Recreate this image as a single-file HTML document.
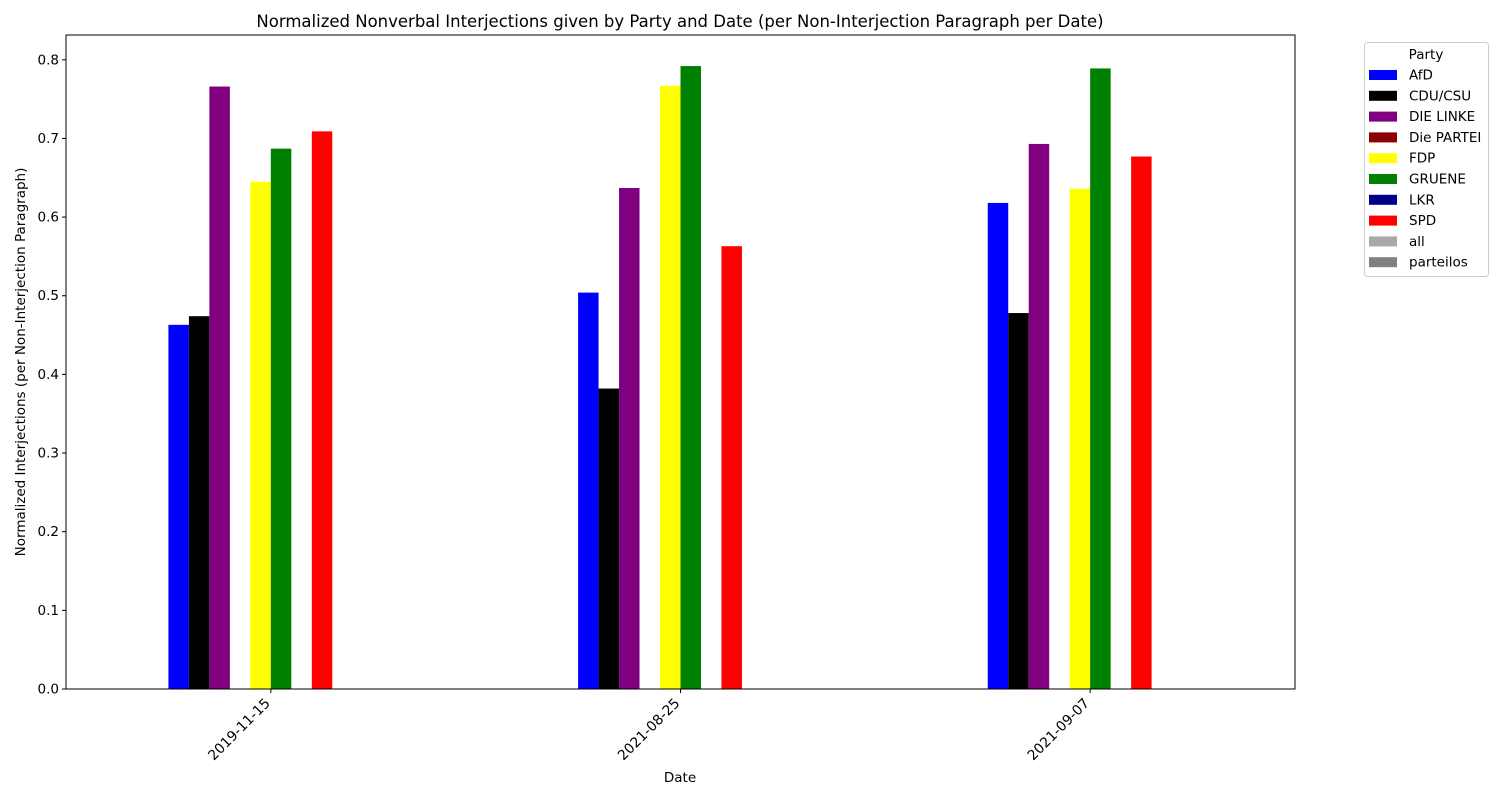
<!DOCTYPE html>
<html><head><meta charset="utf-8"><style>
body{margin:0;background:#fff;}
svg{font-family:"DejaVu Sans","Liberation Sans",sans-serif;}
</style></head><body>
<svg id="chart" width="1500" height="800">
<text x="680" y="27" font-size="16.5" text-anchor="middle">Normalized Nonverbal Interjections given by Party and Date (per Non-Interjection Paragraph per Date)</text>
<text x="680" y="782" font-size="13.5" text-anchor="middle">Date</text>
<text transform="translate(25,362) rotate(-90)" font-size="13.5" text-anchor="middle">Normalized Interjections (per Non-Interjection Paragraph)</text>
<g id="bars"></g><g id="axes"></g><g id="legend"></g>
</svg>
<script>
const dates=["2019-11-15","2021-08-25","2021-09-07"];
const parties=["AfD","CDU/CSU","DIE LINKE","Die PARTEI","FDP","GRUENE","LKR","SPD","all","parteilos"];
const colors=["#0000ff","#000000","#800080","#8b0000","#ffff00","#008000","#00008b","#ff0000","#a9a9a9","#808080"];
const vAfD=[0.463,0.504,0.618];
const vCDU=[0.474,0.382,0.478];
const vLINKE=[0.766,0.637,0.693];
const vPARTEI=[0,0,0];
const vFDP=[0.645,0.767,0.636];
const vGRUENE=[0.687,0.792,0.789];
const vLKR=[0,0,0];
const vSPD=[0.709,0.563,0.677];
const vAll=[0,0,0];
const vParteilos=[0,0,0];
const series=[vAfD,vCDU,vLINKE,vPARTEI,vFDP,vGRUENE,vLKR,vSPD,vAll,vParteilos];
const yTicks=[0,0.1,0.2,0.3,0.4,0.5,0.6,0.7,0.8];
const NS="http://www.w3.org/2000/svg";
const L=66,R=1295,T=35,B=689;
const xMin=-0.5,xMax=dates.length-0.5,yMax=0.8315;
const xs=v=>L+(v-xMin)/(xMax-xMin)*(R-L);
const ys=v=>B-v/yMax*(B-T);
function mk(tag,attrs,parent){const e=document.createElementNS(NS,tag);for(const k in attrs)e.setAttribute(k,attrs[k]);parent.appendChild(e);return e;}
const bars=document.getElementById('bars'),axes=document.getElementById('axes'),leg=document.getElementById('legend');
const bw=0.5/parties.length;
series.forEach((arr,p)=>{arr.forEach((v,i)=>{
 const x0=xs(i-0.25+p*bw),x1=xs(i-0.25+(p+1)*bw);
 const r=mk('rect',{x:x0,y:ys(v),width:x1-x0,height:ys(0)-ys(v),fill:colors[p]},bars);
 
 
});});
const frame=mk('rect',{x:L,y:T,width:R-L,height:B-T,fill:'none',stroke:'#000','stroke-width':1},axes);


yTicks.forEach(t=>{const y=ys(t);
 mk('line',{x1:L-4,x2:L,y1:y,y2:y,stroke:'#000'},axes);
 const tx=mk('text',{x:L-7,y:y+4.5,'font-size':13.5,'text-anchor':'end'},axes);tx.textContent=t.toFixed(1);
 
 
});
dates.forEach((d,i)=>{const x=xs(i);
 mk('line',{x1:x,x2:x,y1:B,y2:B+4,stroke:'#000'},axes);
 const tx=mk('text',{transform:`translate(${x},${B+15}) rotate(-45)`,'font-size':13.9,'text-anchor':'end'},axes);tx.textContent=d;
 
 
});
const lb=mk('rect',{x:1364.5,y:42.5,width:124,height:234,rx:3,fill:'#fff',stroke:'#ccc'},leg);


const lt=mk('text',{x:1426,y:59,'font-size':13.5,'text-anchor':'middle'},leg);lt.textContent='Party';


parties.forEach((p,i)=>{const y=75+i*20.8;
 const g=mk('g',{},leg);
 
 
 mk('rect',{x:1369,y:y-5,width:28,height:10,fill:colors[i]},g);
 const t=mk('text',{x:1409,y:y+4.5,'font-size':13.5},g);t.textContent=p;
});
</script>
</body></html>
